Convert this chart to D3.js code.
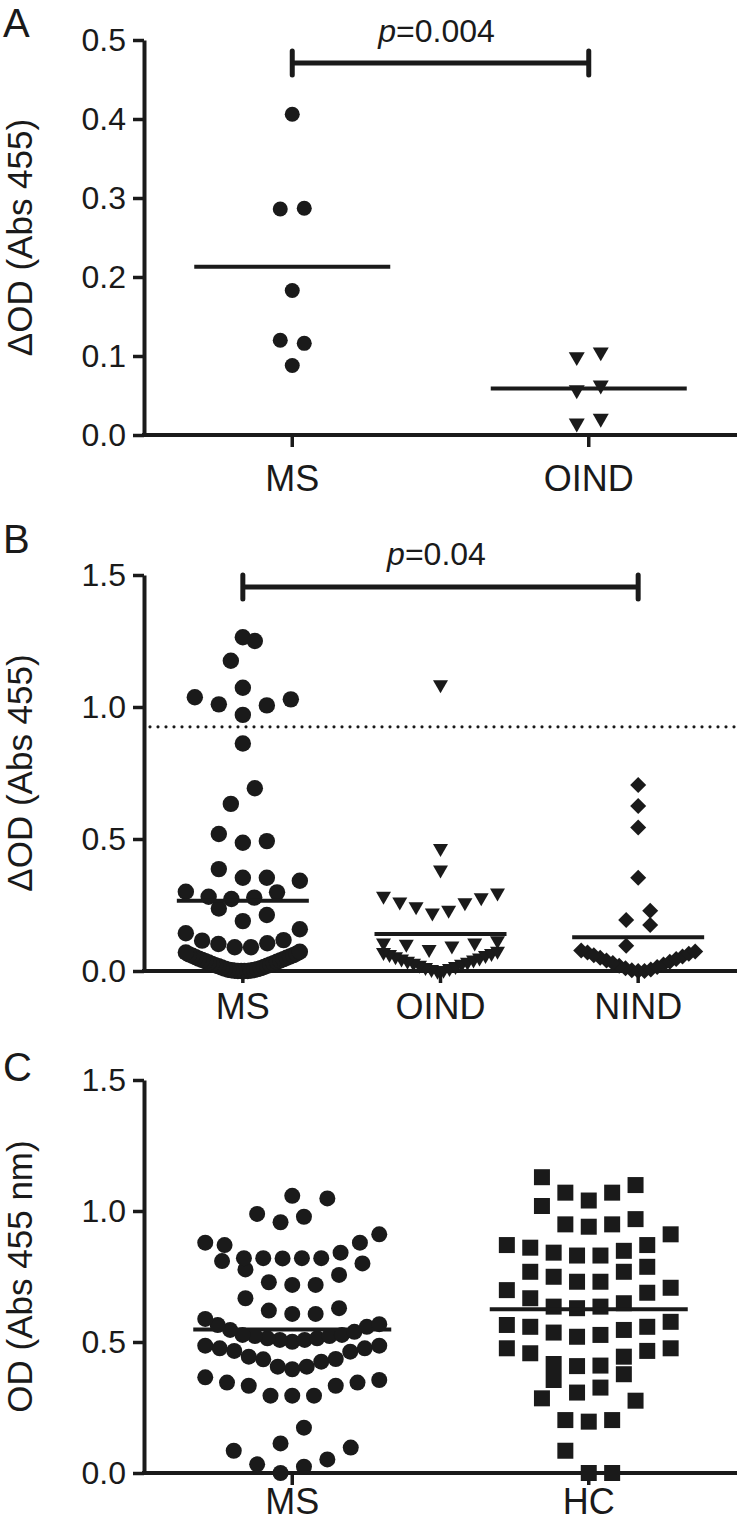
<!DOCTYPE html>
<html>
<head>
<meta charset="utf-8">
<script src="https://cdn.jsdelivr.net/npm/d3@7"></script>
<style>
  body { margin: 0; background: #fff; }
  svg { display: block; }
</style>
</head>
<body>
<div id="chart"></div>
<script>
// ---- values ----

// panel A
const catsA = ["MS", "OIND"];
const msA = [0.406, 0.287, 0.286, 0.183, 0.120, 0.116, 0.088];
const oindA = [0.105, 0.099, 0.063, 0.057, 0.021, 0.015];
const meanA = [0.213, 0.059];
const ticksA = [0, 0.1, 0.2, 0.3, 0.4, 0.5];
const pA = "0.004";

// panel B
const catsB = ["MS", "OIND", "NIND"];
const msB = [1.264, 1.250, 1.175, 1.073, 1.037, 1.029, 1.010, 1.006, 0.970, 0.862,
  0.692, 0.633, 0.519, 0.492, 0.486, 0.386, 0.353, 0.353, 0.342, 0.300, 0.298,
  0.281, 0.278, 0.273, 0.237, 0.212, 0.189, 0.158, 0.143, 0.117, 0.115, 0.105,
  0.102, 0.090, 0.090,
  0.073, 0.070, 0.066, 0.063, 0.060, 0.058, 0.055, 0.052, 0.050, 0.047, 0.045,
  0.042, 0.040, 0.037, 0.035, 0.032, 0.030, 0.027, 0.025, 0.022, 0.020, 0.018,
  0.015, 0.013, 0.011, 0.009, 0.007, 0.005, 0.004, 0.003, 0.002, 0.001, 0, 0, 0, 0];
const oindB = [1.085, 0.465, 0.383, 0.296, 0.284, 0.278, 0.262, 0.259, 0.244, 0.231,
  0.220, 0.115, 0.107, 0.107, 0.102, 0.095, 0.082,
  0.075, 0.071, 0.067, 0.063, 0.059, 0.055, 0.050, 0.046, 0.042, 0.038, 0.034,
  0.030, 0.026, 0.022, 0.018, 0.014, 0.010, 0.006, 0.003, 0];
const nindB = [0.705, 0.625, 0.544, 0.353, 0.228, 0.193, 0.174, 0.096,
  0.078, 0.074, 0.070, 0.065, 0.060, 0.055, 0.050, 0.045, 0.040, 0.035, 0.030,
  0.025, 0.020, 0.015, 0.010, 0.006, 0.003, 0, 0];
const meanB = [0.266, 0.140, 0.128];
const cutoffB = [0.925];
const ticksB = [0, 0.5, 1.0, 1.5];
const pB = "0.04";

// panel C
const catsC = ["MS", "HC"];
const msC = [1.058, 1.048, 0.989, 0.978, 0.957, 0.911, 0.879, 0.879, 0.870, 0.841,
  0.82, 0.82, 0.82, 0.82, 0.819, 0.809, 0.800, 0.777, 0.756, 0.728, 0.718, 0.718,
  0.667, 0.629, 0.620, 0.607, 0.607,
  0.588, 0.568, 0.565, 0.558, 0.546, 0.539, 0.527, 0.527, 0.523, 0.523, 0.514,
  0.514, 0.508, 0.508, 0.501,
  0.486, 0.486, 0.476, 0.476, 0.466, 0.463, 0.444, 0.435, 0.434, 0.425, 0.406,
  0.406, 0.396,
  0.365, 0.355, 0.345, 0.345, 0.333, 0.333, 0.295, 0.295, 0.295,
  0.173, 0.113, 0.097, 0.085, 0.052, 0.033, 0.024, 0];
const hcC = [1.129, 1.099, 1.070, 1.070, 1.04, 1.019, 0.969, 0.949, 0.949, 0.940,
  0.911, 0.870, 0.870, 0.860, 0.848, 0.841, 0.83, 0.83,
  0.787, 0.768, 0.768, 0.749, 0.730, 0.730,
  0.707, 0.698, 0.688, 0.667, 0.648, 0.635, 0.635, 0.629,
  0.577, 0.565, 0.558, 0.558, 0.546, 0.536, 0.527, 0.520,
  0.476, 0.476, 0.466, 0.457, 0.444, 0.416, 0.41, 0.408,
  0.377, 0.355, 0.326, 0.307, 0.285, 0.276, 0.202, 0.202, 0.196, 0.085, 0, 0];
const meanC = [0.548, 0.625];
const ticksC = [0, 0.5, 1.0, 1.5];

// ---- drawing ----
const W = 739, H = 1527;
const ink = "#1a1a1a";
const font = "'Liberation Sans', Arial, Helvetica, sans-serif";
const axisLeft = 144, axisRight = 737;

const svg = d3.select("#chart").append("svg")
  .attr("width", W).attr("height", H)
  .style("background", "#fff")
  .attr("font-family", font);

// spread points of a group sideways: rows of nearby values, lowest in the middle
function swarm(vals, y, binPx, maxStep, maxHalf) {
  const sorted = vals.slice().sort(d3.ascending);
  const rows = [];
  sorted.forEach(v => {
    const last = rows[rows.length - 1];
    if (last && y(last[0]) - y(v) < binPx) last.push(v);
    else rows.push([v]);
  });
  const pts = [];
  rows.forEach(r => {
    const n = r.length;
    const step = n > 1 ? Math.min(maxStep, 2 * maxHalf / (n - 1)) : 0;
    r.forEach((v, i) => {
      let k;
      if (n % 2) k = i === 0 ? 0 : Math.ceil(i / 2) * (i % 2 ? 1 : -1);
      else k = (Math.floor(i / 2) + 0.5) * (i % 2 ? 1 : -1);
      pts.push({v: v, dx: k * step});
    });
  });
  return pts;
}

function addMarks(g, pts, cx, y, shape) {
  if (shape.type === "circle") {
    g.selectAll(null).data(pts).join("circle")
      .attr("cx", d => cx + d.dx)
      .attr("cy", d => y(d.v))
      .attr("r", shape.r)
      .attr("fill", ink);
  } else {
    const sym = d3.symbol().type(shape.type).size(shape.size);
    g.selectAll(null).data(pts).join("path")
      .attr("d", sym)
      .attr("transform", d => `translate(${cx + d.dx},${y(d.v)}) rotate(${shape.rot || 0})`)
      .attr("fill", ink);
  }
}

function drawPanel(p) {
  const g = svg.append("g");
  const y = d3.scaleLinear().domain([0, p.max]).range([p.bottom, p.top]);
  const x = d3.scalePoint().domain(p.cats).range([axisLeft, axisRight]).padding(0.5);

  // panel letter
  g.append("text")
    .attr("x", 3).attr("y", p.letterY)
    .attr("font-size", 40).attr("fill", ink)
    .text(p.letter);

  // y axis
  const ya = g.append("g")
    .attr("transform", `translate(${axisLeft},0)`)
    .call(d3.axisLeft(y).tickValues(p.ticks).tickFormat(d3.format(".1f"))
      .tickSize(11).tickSizeOuter(0).tickPadding(7));
  ya.select(".domain").attr("stroke", ink).attr("stroke-width", 4);
  ya.selectAll(".tick line").attr("stroke", ink).attr("stroke-width", 3.5);
  ya.selectAll(".tick text").attr("fill", ink).attr("font-size", 32)
    .attr("font-family", font);

  g.append("text")
    .attr("transform", `translate(20,${(p.top + p.bottom) / 2}) rotate(-90)`)
    .attr("text-anchor", "middle").attr("dy", "0.35em")
    .attr("font-size", 35).attr("fill", ink)
    .text(p.title);

  // x axis
  g.append("line")
    .attr("x1", axisLeft - 2).attr("x2", axisRight)
    .attr("y1", y(0)).attr("y2", y(0))
    .attr("stroke", ink).attr("stroke-width", 4);
  p.cats.forEach(c => {
    g.append("line")
      .attr("x1", x(c)).attr("x2", x(c))
      .attr("y1", y(0)).attr("y2", y(0) + 12)
      .attr("stroke", ink).attr("stroke-width", 3.5);
    g.append("text")
      .attr("x", x(c)).attr("y", y(0) + 12 + p.labelPad)
      .attr("dy", "0.71em").attr("text-anchor", "middle")
      .attr("font-size", 36).attr("fill", ink)
      .text(c);
  });

  // dotted cut-off
  if (p.cutoff) {
    p.cutoff.forEach(v => {
      g.append("line")
        .attr("x1", 150).attr("x2", axisRight)
        .attr("y1", y(v)).attr("y2", y(v))
        .attr("stroke", ink).attr("stroke-width", 3.2)
        .attr("stroke-linecap", "round")
        .attr("stroke-dasharray", "0 8");
    });
  }

  // points
  p.groups.forEach((vals, i) => {
    const pts = swarm(vals, y, p.binPx, p.maxStep, p.maxHalf);
    addMarks(g, pts, x(p.cats[i]), y, p.shapes[i]);
  });

  // mean lines
  p.means.forEach((m, i) => {
    const cx = x(p.cats[i]);
    g.append("line")
      .attr("x1", cx - p.meanHalf).attr("x2", cx + p.meanHalf)
      .attr("y1", y(m)).attr("y2", y(m))
      .attr("stroke", ink).attr("stroke-width", 4);
  });

  // significance bracket
  if (p.bracket) {
    const x1 = x(p.bracket.from), x2 = x(p.bracket.to), by = p.bracket.y;
    g.append("path")
      .attr("d", `M${x1},${by - 12}V${by + 12}M${x1},${by}H${x2}M${x2},${by - 12}V${by + 12}`)
      .attr("fill", "none").attr("stroke", ink).attr("stroke-width", 5)
      .attr("stroke-linecap", "round");
    const t = g.append("text")
      .attr("x", (x1 + x2) / 2 - 4).attr("y", p.bracket.textY)
      .attr("text-anchor", "middle").attr("font-size", 32).attr("fill", ink);
    t.append("tspan").attr("font-style", "italic").text("p");
    t.append("tspan").text("=" + p.bracket.p);
  }
}

const circle = r => ({type: "circle", r: r});
const triDown = side => ({type: d3.symbolTriangle, size: Math.sqrt(3) / 4 * side * side, rot: 180});
const diamond = diag => ({type: d3.symbolSquare, size: diag * diag / 2, rot: 45});
const square = side => ({type: d3.symbolSquare, size: side * side});

drawPanel({
  letter: "A", letterY: 37,
  cats: catsA, groups: [msA, oindA], means: meanA, ticks: ticksA, max: 0.5,
  top: 40, bottom: 435, title: "\u0394OD (Abs 455)", labelPad: 18,
  shapes: [circle(7.5), triDown(16)],
  binPx: 32, maxStep: 24, maxHalf: 12, meanHalf: 98,
  bracket: {from: "MS", to: "OIND", y: 63, textY: 42, p: pA}
});

drawPanel({
  letter: "B", letterY: 553,
  cats: catsB, groups: [msB, oindB, nindB], means: meanB, ticks: ticksB, max: 1.5,
  top: 575, bottom: 971, title: "\u0394OD (Abs 455)", labelPad: 10,
  cutoff: cutoffB,
  shapes: [circle(8.2), triDown(15), diamond(16)],
  binPx: 21, maxStep: 24, maxHalf: 57, meanHalf: 66,
  bracket: {from: "MS", to: "NIND", y: 587, textY: 565, p: pB}
});

drawPanel({
  letter: "C", letterY: 1081,
  cats: catsC, groups: [msC, hcC], means: meanC, ticks: ticksC, max: 1.5,
  top: 1080, bottom: 1473, title: "OD (Abs 455 nm)", labelPad: 3,
  shapes: [circle(8), square(16)],
  binPx: 26, maxStep: 23.4, maxHalf: 87, meanHalf: 99
});
</script>
</body>
</html>
